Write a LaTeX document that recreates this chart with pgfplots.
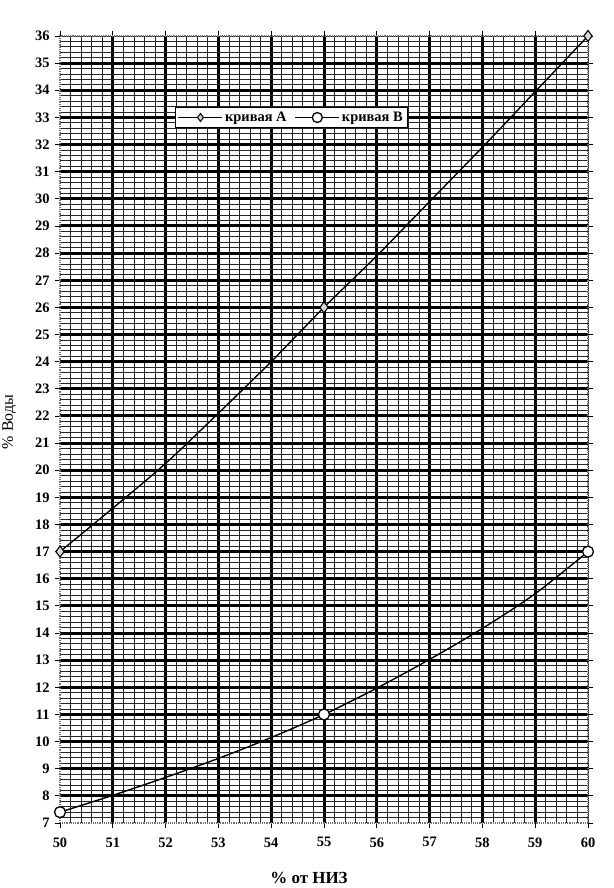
\documentclass[border=0pt]{standalone}
\usepackage{fontspec}
\setmainfont{Liberation Serif}
\usepackage{pgfplots}
\pgfplotsset{compat=1.18}
\begin{document}
\begin{tikzpicture}
\path[use as bounding box] (-60bp,-65bp) rectangle (554bp,823bp);
\begin{axis}[
  at={(0,0)}, anchor=south west,
  scale only axis, width=528bp, height=787bp,
  xmin=50, xmax=60, ymin=7, ymax=36,
  xtick={51,...,59}, ytick={8,...,35},
  extra x ticks={50,60}, extra y ticks={7,36},
  extra tick style={grid=none},
  minor xtick={50.2,50.4,...,59.9}, minor ytick={7.2,7.4,...,35.9},
  grid=both,
  major grid style={black, line width=3bp},
  minor grid style={black!85, line width=0.8bp},
  tick align=outside, major tick length=5bp, minor tick length=0pt,
  tick style={black, line width=0.8bp},
  axis line style={black!55, densely dotted, line width=1.2bp},
  ticklabel style={font=\fontsize{14.5}{16}\selectfont\bfseries},
  xticklabel style={yshift=-6bp},
  yticklabel style={xshift=-2bp},
  /pgf/number format/assume math mode=true,
  xlabel={\% от НИЗ}, ylabel={\% Воды},
  xlabel style={font=\fontsize{17}{19}\selectfont\bfseries, at={(axis description cs:0.4716,-0.0699)}, anchor=center},
  ylabel style={font=\fontsize{16}{18}\selectfont, at={(axis description cs:-0.0966,0.5095)}, anchor=center, inner sep=0pt},
  clip=false,
  legend style={at={(axis description cs:0.438,0.8964)}, anchor=center, legend columns=2,
    draw=black, line width=0.8bp, fill=white, inner sep=2.5bp,
    font=\fontsize{14.5}{16}\selectfont\bfseries,
    /tikz/every even column/.append style={column sep=6bp}},
  legend image code/.code={\draw[mark repeat=2,mark phase=2,#1] plot coordinates {(0bp,0bp) (22bp,0bp) (44bp,0bp)};},
]
\addlegendimage{black, line width=1.3bp, mark=diamond*, mark size=4bp, mark options={fill=gray!40, line width=1bp}}
\addlegendimage{black, line width=1.3bp, mark=*, mark size=5bp, mark options={fill=white, line width=1.3bp}}
\legend{кривая А, кривая В}
\addplot[forget plot, black, line width=1.4bp, smooth, no marks] coordinates {
(50,17)(51,18.6)(52,20.25)(53,22.1)(54,24.0)(55,26)(56,27.9)(57,29.9)(58,31.9)(59,33.95)(60,36)};
\addplot[forget plot, black, line width=1.4bp, smooth, no marks] coordinates {
(50,7.4)(51,8.02)(52,8.68)(53,9.38)(54,10.15)(55,11)(56,11.97)(57,13.03)(58,14.17)(59,15.45)(60,17)};
\addplot[forget plot, only marks, mark=diamond*, mark size=5.5bp, mark options={black, fill=gray!30, line width=1.1bp}] coordinates {
(50,17)(55,26)(60,36)};
\addplot[forget plot, only marks, mark=*, mark size=5.5bp, mark options={black, fill=white, line width=1.3bp}] coordinates {
(50,7.4)(55,11)(60,17)};
\end{axis}
\end{tikzpicture}
\end{document}
